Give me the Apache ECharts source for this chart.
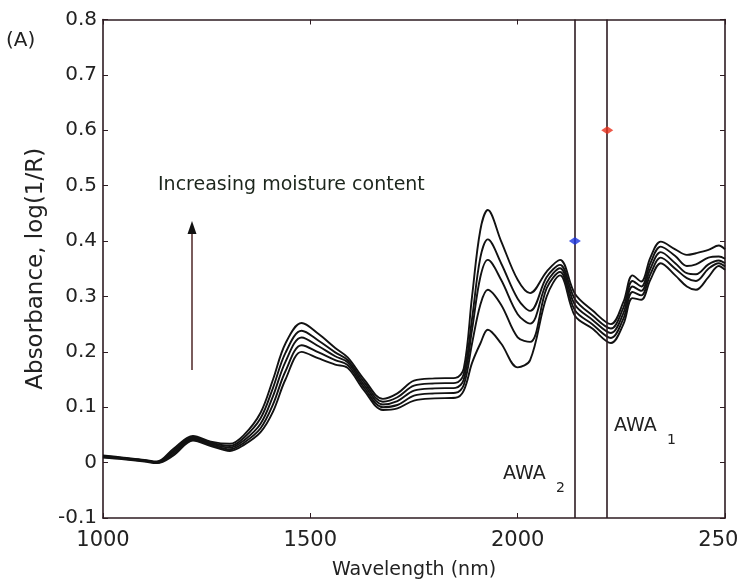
<!DOCTYPE html>
<html>
<head>
<meta charset="utf-8">
<script src="https://cdn.jsdelivr.net/npm/echarts@6/dist/echarts.min.js"></script>
<style>
  html, body { margin: 0; padding: 0; background: #fff; }
  #chart { width: 737px; height: 580px; }
</style>
</head>
<body>
<div id="chart"></div>
<script>
// Wavelength sampling points (nm)
const wavelengths = [1000, 1050, 1100, 1130, 1170, 1217, 1260, 1306, 1340, 1380, 1410, 1440, 1479, 1520, 1560, 1590, 1630, 1675, 1710, 1750, 1800, 1850, 1870, 1890, 1910, 1928, 1960, 2000, 2030, 2070, 2102, 2138, 2180, 2225, 2255, 2277, 2298, 2320, 2345, 2380, 2408, 2430, 2460, 2485, 2500];

// Absorbance spectra, highest moisture first
const spectrum1 = [0.013, 0.009, 0.005, 0.002, 0.025, 0.048, 0.038, 0.034, 0.050, 0.090, 0.150, 0.215, 0.252, 0.232, 0.207, 0.190, 0.150, 0.115, 0.125, 0.148, 0.152, 0.153, 0.170, 0.300, 0.420, 0.456, 0.400, 0.330, 0.306, 0.345, 0.366, 0.305, 0.275, 0.250, 0.290, 0.338, 0.327, 0.370, 0.399, 0.385, 0.375, 0.378, 0.384, 0.392, 0.385];
const spectrum2 = [0.012, 0.008, 0.004, 0.001, 0.022, 0.046, 0.036, 0.030, 0.045, 0.080, 0.135, 0.198, 0.238, 0.220, 0.199, 0.185, 0.145, 0.110, 0.118, 0.139, 0.143, 0.144, 0.160, 0.260, 0.370, 0.403, 0.360, 0.296, 0.274, 0.335, 0.357, 0.295, 0.266, 0.242, 0.280, 0.328, 0.318, 0.360, 0.390, 0.373, 0.355, 0.358, 0.370, 0.372, 0.368];
const spectrum3 = [0.011, 0.007, 0.004, 0.000, 0.019, 0.044, 0.034, 0.027, 0.040, 0.070, 0.120, 0.182, 0.226, 0.210, 0.192, 0.181, 0.140, 0.105, 0.111, 0.130, 0.134, 0.135, 0.150, 0.240, 0.335, 0.366, 0.330, 0.268, 0.251, 0.325, 0.351, 0.285, 0.258, 0.234, 0.270, 0.318, 0.310, 0.350, 0.380, 0.360, 0.342, 0.340, 0.358, 0.365, 0.360];
const spectrum4 = [0.010, 0.007, 0.003, 0.000, 0.016, 0.042, 0.032, 0.024, 0.036, 0.062, 0.105, 0.165, 0.212, 0.199, 0.185, 0.176, 0.135, 0.100, 0.104, 0.121, 0.125, 0.126, 0.140, 0.215, 0.285, 0.312, 0.285, 0.226, 0.218, 0.315, 0.344, 0.275, 0.250, 0.225, 0.260, 0.308, 0.302, 0.340, 0.370, 0.350, 0.333, 0.328, 0.350, 0.360, 0.354];
const spectrum5 = [0.009, 0.006, 0.002, -0.001, 0.013, 0.040, 0.030, 0.021, 0.032, 0.055, 0.092, 0.150, 0.200, 0.188, 0.177, 0.171, 0.130, 0.095, 0.098, 0.112, 0.116, 0.117, 0.130, 0.180, 0.215, 0.240, 0.215, 0.172, 0.185, 0.300, 0.338, 0.265, 0.242, 0.216, 0.250, 0.297, 0.294, 0.330, 0.360, 0.338, 0.318, 0.312, 0.335, 0.355, 0.348];

// Characteristic wavelengths and their reference absorbance points
const awaWavelengths = [2216, 2138];
const awaPointValues = [0.6, 0.4];
const awaPointColors = ['#e8301c', '#1c34e0'];

// Axis ticks
const xTicks = [1000, 1500, 2000, 2500];
const yMin = -0.1, yMax = 0.8, yStep = 0.1;

const spectra = [spectrum1, spectrum2, spectrum3, spectrum4, spectrum5];
const axisColor = '#2e1c22';
const font = 'DejaVu Sans, Liberation Sans, sans-serif';

const chart = echarts.init(document.getElementById('chart'), null, { renderer: 'canvas' });

const lineSeries = spectra.map((s, i) => ({
  type: 'line',
  name: 'spectrum' + (i + 1),
  data: wavelengths.map((w, k) => [w, s[k]]),
  smooth: 0.35,
  showSymbol: false,
  lineStyle: { color: '#121212', width: 1.9 },
  z: 3
}));

const markerSeries = {
  type: 'scatter',
  data: awaWavelengths.map((w, i) => ({
    value: [w, awaPointValues[i]],
    itemStyle: { color: awaPointColors[i] }
  })),
  symbol: 'diamond',
  symbolSize: [12, 8],
  z: 5,
  markLine: {
    silent: true,
    symbol: 'none',
    label: { show: false },
    lineStyle: { color: axisColor, width: 1.6, type: 'solid' },
    data: awaWavelengths.map(w => ({ xAxis: w }))
  }
};

const tickStyle = { show: true, inside: true, length: 5, lineStyle: { color: axisColor, width: 1 } };
const boxLine = { show: true, onZero: false, lineStyle: { color: axisColor, width: 1.6 } };

chart.setOption({
  animation: false,
  backgroundColor: '#fff',
  grid: { left: 103, right: 12, top: 19.5, bottom: 62, containLabel: false, outerBoundsMode: 'none' },
  xAxis: [
    {
      type: 'value', min: 1000, max: 2500, interval: 500,
      name: 'Wavelength (nm)', nameLocation: 'middle', nameGap: 43,
      nameTextStyle: { color: '#222', fontSize: 19, fontFamily: font },
      axisLine: boxLine,
      axisTick: tickStyle,
      axisLabel: { margin: 12, color: '#222', fontSize: 21, fontFamily: font, formatter: v => xTicks.includes(v) ? String(v) : '' },
      splitLine: { show: false }
    },
    {
      type: 'value', min: 1000, max: 2500, interval: 500, position: 'top',
      axisLine: boxLine, axisTick: tickStyle, axisLabel: { show: false }, splitLine: { show: false }
    }
  ],
  yAxis: [
    {
      type: 'value', min: yMin, max: yMax, interval: yStep,
      name: 'Absorbance, log(1/R)', nameLocation: 'middle', nameGap: 53,
      nameTextStyle: { color: '#222', fontSize: 23, fontFamily: font },
      axisLine: boxLine,
      axisTick: tickStyle,
      axisLabel: { margin: 6, color: '#222', fontSize: 20, fontFamily: font, formatter: v => String(Math.round(v * 10) / 10) },
      splitLine: { show: false }
    },
    {
      type: 'value', min: yMin, max: yMax, interval: yStep, position: 'right',
      axisLine: boxLine, axisTick: tickStyle, axisLabel: { show: false }, splitLine: { show: false }
    }
  ],
  series: [...lineSeries, markerSeries],
  graphic: [
    { type: 'text', left: 6, top: 31, style: { text: '(A)', fontSize: 20, fontFamily: font, fill: '#222' } },
    { type: 'text', left: 158, top: 176, style: { text: 'Increasing moisture content', fontSize: 19, fontFamily: font, fill: '#1c261c' } },
    { type: 'line', shape: { x1: 192, y1: 370, x2: 192, y2: 232 }, style: { stroke: '#7a5c5c', lineWidth: 2 } },
    { type: 'polygon', shape: { points: [[192, 221], [187.5, 234], [196.5, 234]] }, style: { fill: '#111' } },
    { type: 'text', left: 614, top: 417, style: { text: 'AWA', fontSize: 19, fontFamily: font, fill: '#222' } },
    { type: 'text', left: 667, top: 433, style: { text: '1', fontSize: 14, fontFamily: font, fill: '#222' } },
    { type: 'text', left: 503, top: 465, style: { text: 'AWA', fontSize: 19, fontFamily: font, fill: '#222' } },
    { type: 'text', left: 556, top: 481, style: { text: '2', fontSize: 14, fontFamily: font, fill: '#222' } }
  ]
});
</script>
</body>
</html>
